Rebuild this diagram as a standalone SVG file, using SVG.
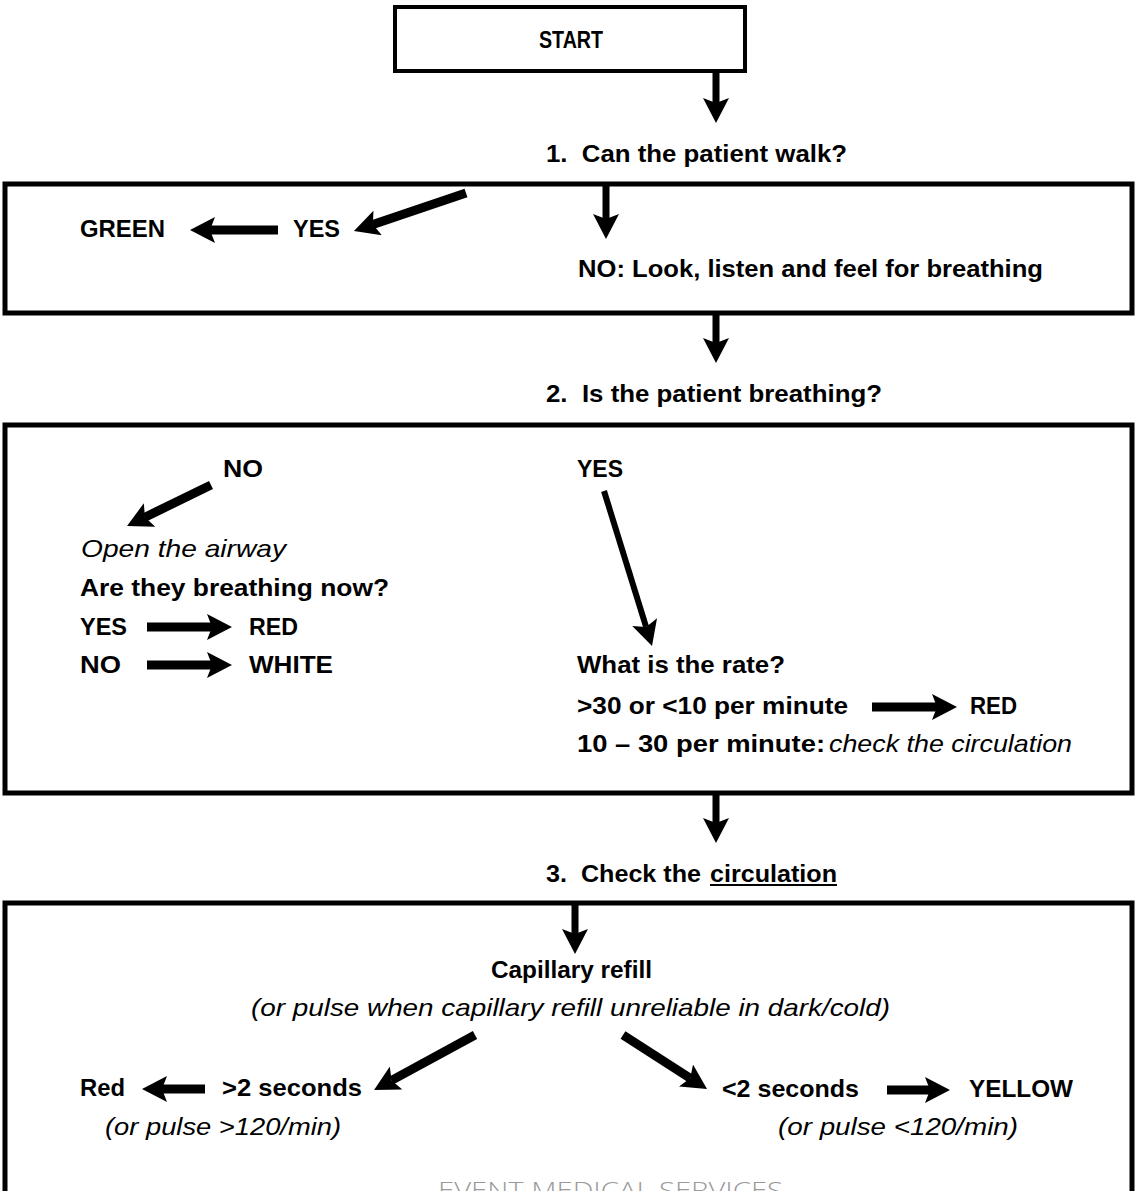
<svg xmlns="http://www.w3.org/2000/svg" width="1136" height="1191" viewBox="0 0 1136 1191">
<style>
  .box { fill: none; stroke: #000; stroke-width: 5; }
  .sbox { fill: #fff; stroke: #000; stroke-width: 4; }
  text { font-family: "Liberation Sans", Arial, sans-serif; font-size: 24px; fill: #000; }
  .b { font-weight: bold; }
  .i { font-style: italic; }
  .wm { font-family: "Open Sans", "Liberation Sans", sans-serif; font-size: 24px; fill: #9a9a9a; font-weight: 300; }
  .c { fill: none; stroke: #000; stroke-width: 7; marker-end: url(#ah); }
  .t { stroke-width: 9; }
  .n { stroke-width: 6; }
</style>
<defs>
  <marker id="ah" markerUnits="userSpaceOnUse" viewBox="0 0 25 26" refX="5" refY="13" markerWidth="25" markerHeight="26" orient="auto">
    <path d="M0,0 L25,13 L0,26 L5,13 Z" fill="#000"/>
  </marker>
</defs>
<rect width="1136" height="1191" fill="#fff"/>

<g id="start">
  <rect class="sbox" x="395" y="7" width="350" height="64"/>
  <text class="b" x="539" y="48" textLength="64" lengthAdjust="spacingAndGlyphs">START</text>
</g>

<g id="q1">
  <text class="b" x="546" y="162" xml:space="preserve" textLength="301" lengthAdjust="spacingAndGlyphs">1.  Can the patient walk?</text>
</g>

<g id="box1">
  <rect class="box" x="5" y="184" width="1127" height="129"/>
  <text class="b" x="80" y="237" textLength="85" lengthAdjust="spacingAndGlyphs">GREEN</text>
  <text class="b" x="293" y="237" textLength="47" lengthAdjust="spacingAndGlyphs">YES</text>
  <text class="b" x="578" y="277" textLength="465" lengthAdjust="spacingAndGlyphs">NO: Look, listen and feel for breathing</text>
</g>

<g id="q2">
  <text class="b" x="546" y="402" xml:space="preserve" textLength="336" lengthAdjust="spacingAndGlyphs">2.  Is the patient breathing?</text>
</g>

<g id="box2">
  <rect class="box" x="5" y="425" width="1127" height="368"/>
  <text class="b" x="223" y="477" textLength="40" lengthAdjust="spacingAndGlyphs">NO</text>
  <text class="i" x="81" y="557" textLength="205" lengthAdjust="spacingAndGlyphs">Open the airway</text>
  <text class="b" x="80" y="596" textLength="309" lengthAdjust="spacingAndGlyphs">Are they breathing now?</text>
  <text class="b" x="80" y="635" textLength="47" lengthAdjust="spacingAndGlyphs">YES</text>
  <text class="b" x="249" y="635" textLength="49" lengthAdjust="spacingAndGlyphs">RED</text>
  <text class="b" x="80" y="673" textLength="41" lengthAdjust="spacingAndGlyphs">NO</text>
  <text class="b" x="249" y="673" textLength="84" lengthAdjust="spacingAndGlyphs">WHITE</text>
  <text class="b" x="577" y="477" textLength="46" lengthAdjust="spacingAndGlyphs">YES</text>
  <text class="b" x="577" y="673" textLength="208" lengthAdjust="spacingAndGlyphs">What is the rate?</text>
  <text class="b" x="577" y="714" textLength="271" lengthAdjust="spacingAndGlyphs">&gt;30 or &lt;10 per minute</text>
  <text class="b" x="970" y="714" textLength="47" lengthAdjust="spacingAndGlyphs">RED</text>
  <text class="b" x="577" y="752" textLength="248" lengthAdjust="spacingAndGlyphs">10 – 30 per minute:</text>
  <text class="i" x="829" y="752" textLength="243" lengthAdjust="spacingAndGlyphs">check the circulation</text>
</g>

<g id="q3">
  <text class="b" x="546" y="882" xml:space="preserve" textLength="155" lengthAdjust="spacingAndGlyphs">3.  Check the</text>
  <text class="b" x="710" y="882" textLength="127" lengthAdjust="spacingAndGlyphs">circulation</text>
  <rect x="710" y="884" width="127" height="2" fill="#000"/>
</g>

<g id="box3">
  <rect class="box" x="5" y="903" width="1127" height="300"/>
  <text class="b" x="491" y="978" textLength="161" lengthAdjust="spacingAndGlyphs">Capillary refill</text>
  <text class="i" x="251" y="1016" textLength="639" lengthAdjust="spacingAndGlyphs">(or pulse when capillary refill unreliable in dark/cold)</text>
  <text class="b" x="80" y="1096" textLength="45" lengthAdjust="spacingAndGlyphs">Red</text>
  <text class="b" x="222" y="1096" textLength="140" lengthAdjust="spacingAndGlyphs">&gt;2 seconds</text>
  <text class="i" x="105" y="1135" textLength="236" lengthAdjust="spacingAndGlyphs">(or pulse &gt;120/min)</text>
  <text class="b" x="722" y="1097" textLength="137" lengthAdjust="spacingAndGlyphs">&lt;2 seconds</text>
  <text class="b" x="969" y="1097" textLength="104" lengthAdjust="spacingAndGlyphs">YELLOW</text>
  <text class="i" x="778" y="1135" textLength="240" lengthAdjust="spacingAndGlyphs">(or pulse &lt;120/min)</text>
  <text class="wm" x="438" y="1199" textLength="345" lengthAdjust="spacingAndGlyphs">EVENT MEDICAL SERVICES</text>
</g>

<g id="connectors">
  <line class="c" x1="716" y1="73" x2="716" y2="103"/>
  <line class="c" x1="606" y1="186" x2="606" y2="219"/>
  <line class="c" x1="716" y1="315" x2="716" y2="343"/>
  <line class="c" x1="716" y1="795" x2="716" y2="823"/>
  <line class="c" x1="575" y1="905" x2="575" y2="934"/>
  <line class="c t" x1="466" y1="193" x2="372.9" y2="224.6"/>
  <line class="c t" x1="278" y1="230" x2="210" y2="230"/>
  <line class="c t" x1="211" y1="485" x2="145" y2="517.2"/>
  <line class="c t" x1="147" y1="627" x2="212" y2="627"/>
  <line class="c t" x1="147" y1="665" x2="212" y2="665"/>
  <line class="c n" x1="604" y1="491" x2="646.1" y2="626.9"/>
  <line class="c t" x1="872" y1="707" x2="937" y2="707"/>
  <line class="c t" x1="475" y1="1035" x2="391.6" y2="1080.4"/>
  <line class="c t" x1="205" y1="1089" x2="162" y2="1089"/>
  <line class="c t" x1="623" y1="1035" x2="690.2" y2="1078.2"/>
  <line class="c t" x1="887" y1="1090" x2="930" y2="1090"/>
</g>
</svg>
